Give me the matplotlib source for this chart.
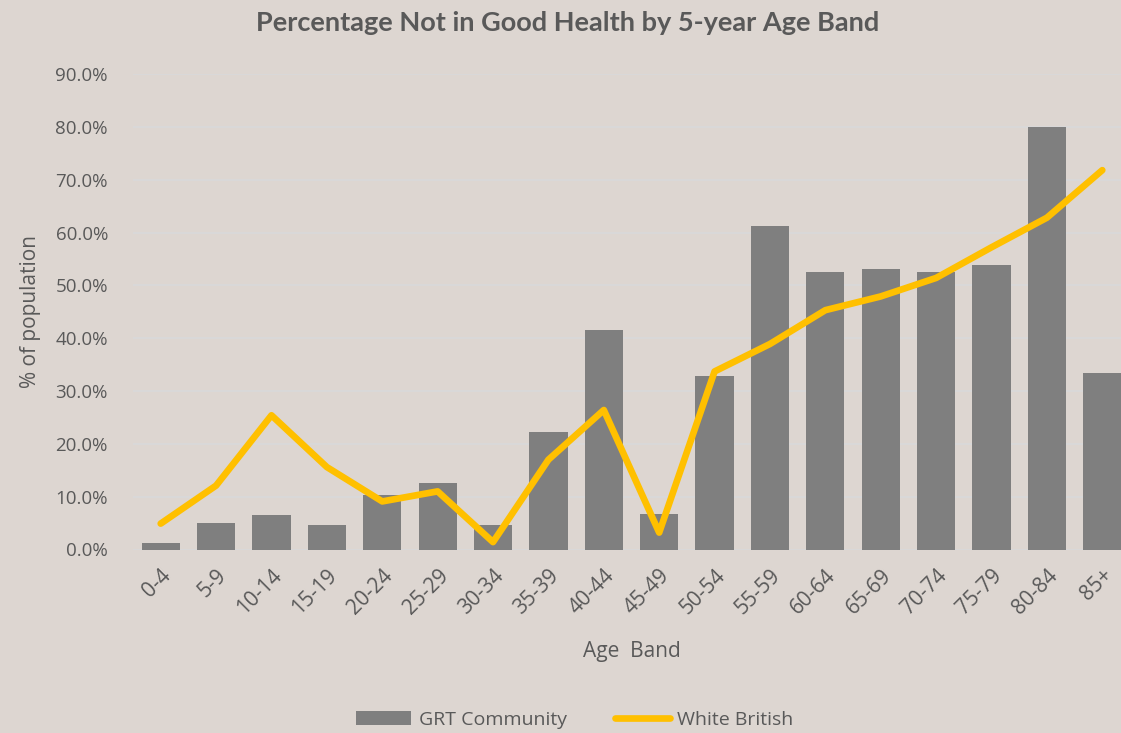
import matplotlib
matplotlib.use("Agg")
import matplotlib.pyplot as plt
from matplotlib.ticker import PercentFormatter
from matplotlib.lines import Line2D
from matplotlib.patches import Patch

age_bands = ["0-4", "5-9", "10-14", "15-19", "20-24", "25-29", "30-34", "35-39",
             "40-44", "45-49", "50-54", "55-59", "60-64", "65-69", "70-74",
             "75-79", "80-84", "85+"]
grt_community = [1.3, 5.0, 6.5, 4.6, 10.3, 12.6, 4.6, 22.3, 41.6, 6.8,
                 32.9, 61.2, 52.6, 53.0, 52.6, 53.8, 80.0, 33.4]
white_british = [4.9, 12.1, 25.4, 15.6, 9.1, 11.0, 1.4, 17.0, 26.4, 3.2,
                 33.7, 38.9, 45.3, 47.9, 51.4, 57.2, 62.8, 71.8]

BG = "#ddd6d1"
TEXT = "#595959"
BAR = "#7f7f7f"
LINE = "#ffc000"

plt.rcParams["font.family"] = ["Open Sans", "DejaVu Sans"]

fig = plt.figure(figsize=(11.21, 7.33), dpi=100, facecolor=BG)
ax = fig.add_axes([133 / 1121, (733 - 549.5) / 733, 997 / 1121, 475.5 / 733])
ax.set_facecolor(BG)

x = list(range(len(age_bands)))
ax.bar(x, grt_community, width=0.69, color=BAR, zorder=2)
ax.plot(x, white_british, color=LINE, lw=4.8, solid_capstyle="round",
        solid_joinstyle="round", zorder=3)

ax.set_xlim(-0.5, len(age_bands) - 0.5)
ax.set_ylim(0, 90)
ax.set_yticks(range(0, 91, 10))
ax.yaxis.set_major_formatter(PercentFormatter(decimals=1))
ax.grid(axis="y", color="#d9d9d9", lw=1.3, zorder=0)
ax.set_axisbelow(True)
for s in ax.spines.values():
    s.set_visible(False)

ax.set_xticks(x)
ax.set_xticklabels(age_bands, rotation=45, ha="right", rotation_mode="anchor")
ax.tick_params(axis="both", length=0, colors=TEXT, labelsize=13.5)
ax.tick_params(axis="x", pad=11, labelsize=15)
ax.tick_params(axis="y", pad=18)

# chart title, centred over the visible chart area
fig.text(568 / 1121, 1 - 23 / 733,
         "Percentage Not in Good Health by 5-year Age Band",
         ha="center", va="center", fontsize=19.5, fontweight="bold", color=TEXT,
         family=["Lato", "DejaVu Sans"])
fig.text(31 / 1121, 1 - 312 / 733, "% of population", rotation=90,
         ha="center", va="center", fontsize=15, color=TEXT)
fig.text(632 / 1121, 1 - 652 / 733, "Age  Band", ha="center", va="center",
         fontsize=15, color=TEXT)

handles = [Patch(facecolor=BAR, label="GRT Community"),
           Line2D([0], [0], color=LINE, lw=4.8, solid_capstyle="round",
                  label="White British")]
fig.legend(handles=handles, loc="center", bbox_to_anchor=(575 / 1121, 1 - 720 / 733),
           ncol=2, frameon=False, fontsize=14, labelcolor=TEXT,
           handlelength=2.8, handleheight=0.7, handletextpad=0.4, columnspacing=2.5)

fig.savefig("out.png", dpi=100, facecolor=BG)
